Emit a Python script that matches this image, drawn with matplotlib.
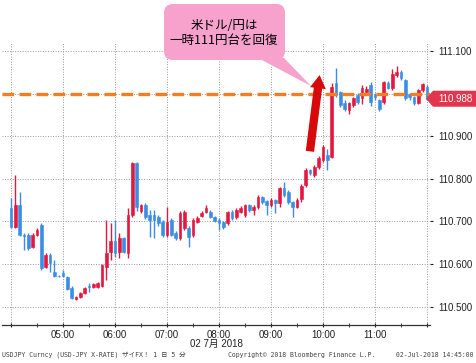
import matplotlib
matplotlib.use("Agg")
import matplotlib.pyplot as plt
import matplotlib.dates as mdates
from matplotlib.patches import FancyBboxPatch, Polygon, FancyArrowPatch
import numpy as np
import pandas as pd

# USD/JPY 5分足 (2018-07-02)
start = "2018-07-02 04:00"
opens = [110.731, 110.687, 110.738, 110.668, 110.668, 110.640, 110.668, 110.692, 110.594, 110.621,
         110.581, 110.573, 110.579, 110.569, 110.544, 110.518, 110.523, 110.532, 110.548, 110.546,
         110.546, 110.548, 110.594, 110.628, 110.654, 110.628, 110.661, 110.626, 110.715, 110.837,
         110.724, 110.738, 110.715, 110.715, 110.710, 110.699, 110.668, 110.703, 110.673, 110.661,
         110.685, 110.685, 110.668, 110.699, 110.712, 110.722, 110.722, 110.710, 110.703, 110.699,
         110.696, 110.722, 110.710, 110.722, 110.715, 110.738, 110.727, 110.734, 110.757, 110.748,
         110.738, 110.750, 110.743, 110.778, 110.769, 110.746, 110.734, 110.752, 110.785, 110.821,
         110.809, 110.828, 110.844, 110.856, 110.852, 111.025, 111.003, 110.978, 110.961, 110.973,
         110.997, 110.990, 111.003, 111.020, 110.997, 110.985, 110.980, 111.025, 111.013, 111.044,
         111.051, 111.032, 110.999, 110.992, 110.978, 111.008, 111.015]
highs = [110.755, 110.809, 110.769, 110.673, 110.673, 110.673, 110.685, 110.696, 110.626, 110.626,
         110.609, 110.575, 110.586, 110.572, 110.548, 110.525, 110.534, 110.546, 110.555, 110.555,
         110.557, 110.600, 110.703, 110.696, 110.703, 110.673, 110.663, 110.731, 110.840, 110.840,
         110.740, 110.743, 110.727, 110.727, 110.715, 110.703, 110.734, 110.708, 110.678, 110.724,
         110.727, 110.690, 110.708, 110.712, 110.724, 110.738, 110.727, 110.712, 110.708, 110.701,
         110.724, 110.727, 110.731, 110.736, 110.741, 110.741, 110.738, 110.762, 110.760, 110.750,
         110.755, 110.753, 110.781, 110.792, 110.774, 110.748, 110.755, 110.788, 110.826, 110.824,
         110.833, 110.854, 110.880, 110.870, 111.025, 111.060, 111.005, 110.985, 110.980, 110.992,
         111.001, 111.020, 111.018, 111.027, 111.001, 110.987, 111.030, 111.030, 111.058, 111.065,
         111.055, 111.035, 111.001, 110.995, 111.010, 111.025, 111.020]
lows = [110.685, 110.685, 110.666, 110.633, 110.633, 110.638, 110.666, 110.586, 110.591, 110.581,
        110.569, 110.569, 110.569, 110.539, 110.518, 110.516, 110.520, 110.530, 110.534, 110.544,
        110.544, 110.546, 110.562, 110.609, 110.616, 110.614, 110.626, 110.614, 110.710, 110.725,
        110.720, 110.705, 110.663, 110.661, 110.690, 110.663, 110.663, 110.665, 110.656, 110.656,
        110.680, 110.640, 110.663, 110.696, 110.710, 110.720, 110.708, 110.699, 110.680, 110.682,
        110.692, 110.703, 110.705, 110.720, 110.710, 110.722, 110.715, 110.729, 110.741, 110.715,
        110.734, 110.720, 110.734, 110.757, 110.741, 110.710, 110.731, 110.745, 110.781, 110.809,
        110.804, 110.823, 110.840, 110.821, 110.850, 110.992, 110.969, 110.959, 110.952, 110.969,
        110.976, 110.975, 110.999, 110.970, 110.985, 110.959, 110.975, 111.010, 111.008, 111.040,
        111.032, 110.985, 110.985, 110.973, 110.975, 111.003, 110.985]
closes = [110.687, 110.738, 110.668, 110.665, 110.638, 110.668, 110.680, 110.591, 110.621, 110.602,
          110.572, 110.571, 110.572, 110.541, 110.520, 110.523, 110.532, 110.544, 110.546, 110.553,
          110.555, 110.598, 110.626, 110.654, 110.626, 110.661, 110.628, 110.715, 110.837, 110.733,
          110.738, 110.710, 110.703, 110.703, 110.696, 110.668, 110.699, 110.668, 110.661, 110.720,
          110.722, 110.663, 110.703, 110.708, 110.720, 110.731, 110.710, 110.701, 110.696, 110.687,
          110.722, 110.708, 110.727, 110.731, 110.738, 110.727, 110.734, 110.757, 110.746, 110.738,
          110.750, 110.743, 110.778, 110.762, 110.746, 110.734, 110.750, 110.783, 110.821, 110.814,
          110.828, 110.849, 110.875, 110.844, 111.015, 110.997, 110.973, 110.964, 110.978, 110.990,
          110.980, 111.013, 111.011, 110.980, 110.992, 110.964, 111.027, 111.013, 111.046, 111.051,
          111.037, 110.990, 110.992, 110.978, 111.008, 111.022, 110.988]

ref_level = 111.000
last_price = 110.988
y_ticks = [110.5, 110.6, 110.7, 110.8, 110.9, 111.0, 111.1]
callout_text = "米ドル/円は\n一時111円台を回復"
date_label = "02 7月 2018"
footer_left = "USDJPY Curncy (USD-JPY X-RATE) ザイFX！ 1 日 5 分"
footer_mid = "Copyright© 2018 Bloomberg Finance L.P."
footer_right = "02-Jul-2018 14:45:00"

UP = "#e4173e"
DOWN = "#3a8de6"
ORANGE = "#f27d22"

plt.rcParams["font.family"] = ["Liberation Sans", "Noto Sans CJK JP"]

times = pd.date_range(start, periods=len(opens), freq="5min")
x = mdates.date2num(times.to_pydatetime())
o, h, l, c = map(np.array, (opens, highs, lows, closes))

fig = plt.figure(figsize=(4.77, 3.63), dpi=100)
ax = fig.add_axes([2 / 477, 38 / 363, 428 / 477, 282 / 363])

up = c >= o
cols = np.where(up, UP, DOWN)
bw = 5 / 1440 * 0.58
ax.vlines(x, l, h, colors=cols, linewidth=1.0, zorder=3)
body = np.where(np.abs(c - o) < 0.0015, 0.0015, c - o)
ax.bar(x, body, bottom=o, width=bw, color=cols, edgecolor=cols, linewidth=0.4, zorder=4)

ax.axhline(ref_level, color=ORANGE, linewidth=2.4, dashes=(3.5, 1.6), zorder=6)

t0 = mdates.date2num(pd.Timestamp("2018-07-02 04:00"))
hour = 1 / 24
ax.set_xlim(t0 - 10.4 / 1440, t0 + 8.058 * hour)
ax.set_ylim(110.4568, 111.1188)

ax.xaxis.set_major_locator(mdates.HourLocator())
ax.xaxis.set_minor_locator(mdates.MinuteLocator(byminute=[30]))
ax.xaxis.set_major_formatter(mdates.DateFormatter("%H:%M"))
ax.set_yticks(y_ticks)
# the 111.000 label sits under the last-price tag
ax.set_yticklabels(["" if v == ref_level else f"{v:.3f}" for v in y_ticks])
ax.yaxis.tick_right()
ax.tick_params(axis="y", length=2, pad=4, labelsize=7, colors="#222222")
ax.tick_params(axis="x", which="both", length=3, direction="inout", labelsize=7,
               colors="#222222", pad=2)
ax.grid(True, which="major", color="#9a9a9a", linewidth=0.7, linestyle=(0, (1, 1.6)))
for s in ("top", "left", "right"):
    ax.spines[s].set_visible(False)
ax.spines["bottom"].set_color("#333333")
ax.spines["bottom"].set_linewidth(0.9)
ax.set_facecolor("none")

# hide 04:00 and 12:00 labels
fig.canvas.draw()
labs = [t.get_text() for t in ax.get_xticklabels()]
ax.set_xticks(ax.get_xticks())
ax.set_xticklabels([s if s not in ("04:00", "12:00") else "" for s in labs])

# big red arrow
arrow = FancyArrowPatch((mdates.date2num(pd.Timestamp("2018-07-02 09:44:30")), 110.858),
                        (mdates.date2num(pd.Timestamp("2018-07-02 09:56:30")), 111.050),
                        arrowstyle="simple,head_length=0.95,head_width=1.15,tail_width=0.6",
                        mutation_scale=10, color="#d60a0a", linewidth=0, zorder=8)
ax.add_patch(arrow)

# overlay in pixel coordinates
ov = fig.add_axes([0, 0, 1, 1])
ov.set_xlim(0, 477)
ov.set_ylim(363, 0)
ov.axis("off")
ov.patch.set_alpha(0)

PINK = "#f6a2cd"
ov.add_patch(Polygon([(258, 58), (284, 58), (311, 86)], closed=True, color=PINK, lw=0, zorder=1))
ov.add_patch(FancyBboxPatch((164, 4), 121, 56, boxstyle="round,pad=0,rounding_size=9",
                            facecolor=PINK, edgecolor="none", zorder=2))
ov.text(224, 33, callout_text, ha="center", va="center", fontsize=9, linespacing=1.15,
        family=["Noto Sans CJK JP", "DejaVu Sans"], zorder=3)

# last price tag
yp = 363 - ax.transData.transform((x[-1], last_price))[1]
ov.add_patch(Polygon([(426, yp), (433, yp - 8), (476, yp - 8), (476, yp + 8), (433, yp + 8)],
                     closed=True, facecolor="#e2364f", edgecolor="none", zorder=4))
ov.text(455, yp + 0.5, f"{last_price:.3f}", ha="center", va="center", fontsize=7,
        color="white", zorder=5)

ov.text(216, 344, date_label, ha="center", va="center", fontsize=7, color="#222222")
mono = ["DejaVu Sans Mono", "Noto Sans CJK JP"]
ov.text(2, 355, footer_left, ha="left", va="center", fontsize=4.7, family=mono, color="#444444")
ov.text(228, 355, footer_mid, ha="left", va="center", fontsize=4.7, family=mono, color="#444444")
ov.text(474, 355, footer_right, ha="right", va="center", fontsize=4.7, family=mono, color="#444444")

fig.savefig("out.png", dpi=100)
